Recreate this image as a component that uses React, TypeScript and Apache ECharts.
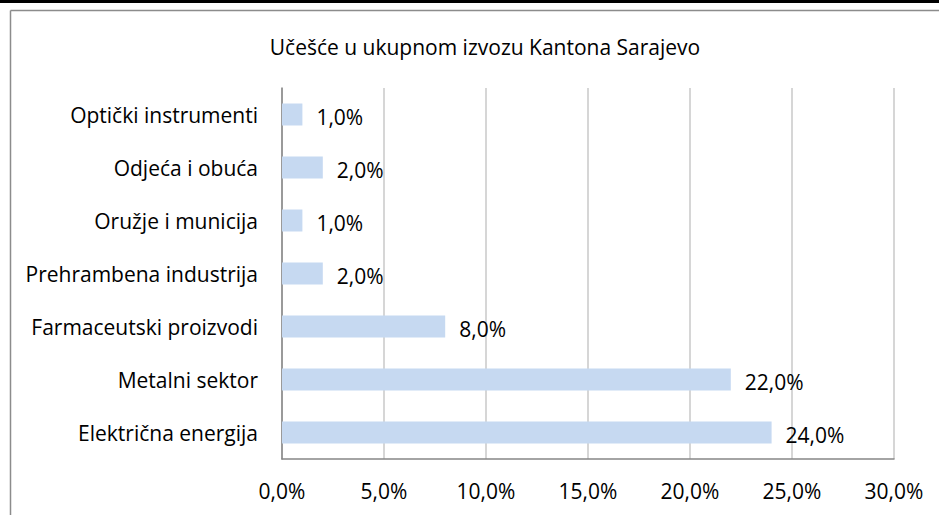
import React, { useEffect, useRef } from "react";
import * as echarts from "echarts";

const title = "Učešće u ukupnom izvozu Kantona Sarajevo";
const categories = [
  "Optički instrumenti",
  "Odjeća i obuća",
  "Oružje i municija",
  "Prehrambena industrija",
  "Farmaceutski proizvodi",
  "Metalni sektor",
  "Električna energija",
];
const values = [1.0, 2.0, 1.0, 2.0, 8.0, 22.0, 24.0];
const axisMin = 0;
const axisMax = 30;
const axisStep = 5;

const fmt = (v: number) => v.toFixed(1).replace(".", ",") + "%";
const FONT = "Open Sans";
const FS = 21;

export default function App() {
  const ref = useRef<HTMLDivElement>(null);
  useEffect(() => {
    if (!ref.current) return;
    const chart = echarts.init(ref.current, undefined, { renderer: "svg" });
    chart.setOption({
      animation: false,
      backgroundColor: "#ffffff",
      title: {
        text: title,
        left: 480,
        textAlign: "center",
        top: 31,
        textStyle: { fontFamily: FONT, fontSize: FS, fontWeight: "normal", color: "#000" },
      },
      graphic: [
        { type: "rect", shape: { x: 0, y: 0, width: 939, height: 3 }, style: { fill: "#000" } },
        { type: "line", shape: { x1: 10.5, y1: 10.5, x2: 939, y2: 10.5 }, style: { stroke: "#8c8c8c", lineWidth: 1.5 } },
        { type: "line", shape: { x1: 10.5, y1: 10.5, x2: 10.5, y2: 515 }, style: { stroke: "#8c8c8c", lineWidth: 1.5 } },
      ],
      grid: { left: 282, right: 45, top: 88, bottom: 56, containLabel: false },
      xAxis: {
        type: "value",
        min: axisMin,
        max: axisMax,
        interval: axisStep,
        axisLine: { show: true, lineStyle: { color: "#868686", width: 1.5 } },
        axisTick: { show: false },
        splitLine: { show: true, lineStyle: { color: "#c8c8c8", width: 1.5 } },
        axisLabel: {
          margin: 21,
          fontFamily: FONT,
          fontSize: FS,
          color: "#000",
          formatter: (v: number) => fmt(v),
        },
      },
      yAxis: {
        type: "category",
        data: categories,
        inverse: true,
        axisLine: { show: true, lineStyle: { color: "#868686", width: 1.5 } },
        axisTick: { show: false },
        splitLine: { show: false },
        axisLabel: { margin: 24, fontFamily: FONT, fontSize: FS, color: "#000" },
      },
      series: [
        {
          type: "bar",
          data: values,
          barWidth: 22,
          itemStyle: { color: "#c6d9f1" },
          label: {
            show: true,
            position: "right",
            distance: 14,
            offset: [0, 2],
            fontFamily: FONT,
            fontSize: FS,
            color: "#000",
            formatter: (p: any) => fmt(p.value),
          },
        },
      ],
    });
    return () => chart.dispose();
  }, []);
  return (
    <div
      ref={ref}
      style={{ position: "fixed", left: 0, top: 0, width: 939, height: 515 }}
    />
  );
}
